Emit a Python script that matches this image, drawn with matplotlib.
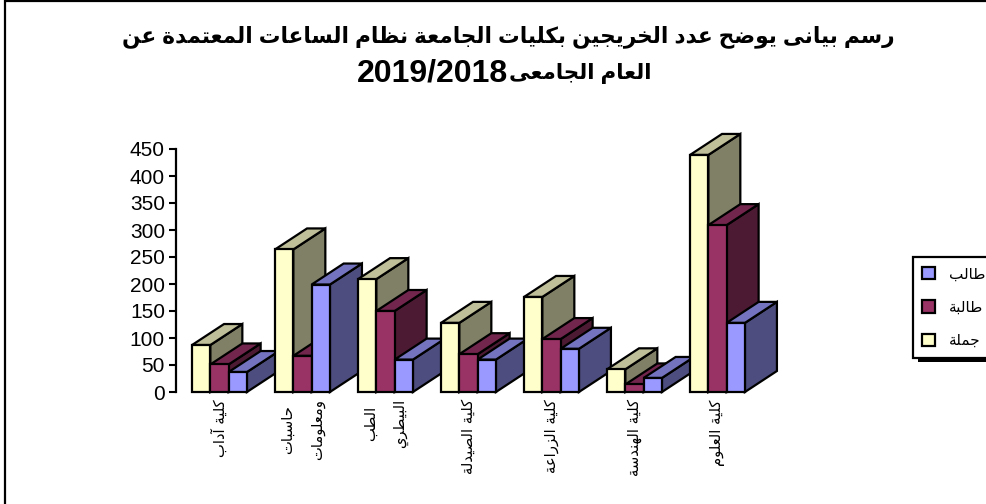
import re
import matplotlib
matplotlib.use("Agg")
import matplotlib.pyplot as plt
from matplotlib.patches import Polygon, Rectangle, Patch

W, H = 987, 504

title_lines = ["رسم بيانى يوضح عدد الخريجين بكليات الجامعة نظام الساعات المعتمدة عن",
               "العام الجامعى", "2019/2018"]
categories = ["كلية آداب", "حاسبات\nومعلومات", "الطب\nالبيطري", "كلية الصيدلة",
              "كلية الزراعة", "كلية الهندسة", "كلية العلوم"]
series_names = ["جملة", "طالبة", "طالب"]
total = [87, 264, 209, 128, 176, 42, 439]
female = [51, 67, 150, 70, 98, 14, 309]
male = [37, 199, 60, 60, 80, 26, 128]
y_ticks = [0, 50, 100, 150, 200, 250, 300, 350, 400, 450]

colors = ["#FFFFCC", "#993366", "#9999FF"]
tops = ["#BFBF99", "#73264D", "#7373BF"]
sides = ["#808066", "#4D1A33", "#4D4D80"]

# (isolated, final, initial, medial); two entries = joins to the right only
forms = {
    "ا": "\uFE8D\uFE8E", "آ": "\uFE81\uFE82", "د": "\uFEA9\uFEAA", "ر": "\uFEAD\uFEAE",
    "ز": "\uFEAF\uFEB0", "و": "\uFEED\uFEEE", "ة": "\uFE93\uFE94", "ى": "\uFEEF\uFEF0",
    "ب": "\uFE8F\uFE90\uFE91\uFE92", "ت": "\uFE95\uFE96\uFE97\uFE98", "ج": "\uFE9D\uFE9E\uFE9F\uFEA0",
    "ح": "\uFEA1\uFEA2\uFEA3\uFEA4", "خ": "\uFEA5\uFEA6\uFEA7\uFEA8", "س": "\uFEB1\uFEB2\uFEB3\uFEB4",
    "ص": "\uFEB9\uFEBA\uFEBB\uFEBC", "ض": "\uFEBD\uFEBE\uFEBF\uFEC0", "ط": "\uFEC1\uFEC2\uFEC3\uFEC4",
    "ظ": "\uFEC5\uFEC6\uFEC7\uFEC8", "ع": "\uFEC9\uFECA\uFECB\uFECC", "ك": "\uFED9\uFEDA\uFEDB\uFEDC",
    "ل": "\uFEDD\uFEDE\uFEDF\uFEE0", "م": "\uFEE1\uFEE2\uFEE3\uFEE4", "ن": "\uFEE5\uFEE6\uFEE7\uFEE8",
    "ه": "\uFEE9\uFEEA\uFEEB\uFEEC", "ي": "\uFEF1\uFEF2\uFEF3\uFEF4",
}

def shape(word):
    out = ""
    for i, c in enumerate(word):
        if c not in forms:
            out += c
            continue
        prev = word[i-1] if i > 0 else ""
        nxt = word[i+1] if i+1 < len(word) else ""
        after = prev in forms and len(forms[prev]) == 4
        before = len(forms[c]) == 4 and nxt in forms
        if after and before:
            out += forms[c][3]
        elif before:
            out += forms[c][2]
        elif after:
            out += forms[c][1]
        else:
            out += forms[c][0]
    return out

def ar(text):
    # matplotlib does no shaping or bidi, so build the visual order here
    lines = []
    for line in text.split("\n"):
        parts = re.findall(r"[0-9/]+|[^0-9/]+", line)
        parts = [p if p[0] in "0123456789/" else shape(p)[::-1] for p in parts]
        lines.append("".join(parts[::-1]))
    return "\n".join(lines)

def fx(px):
    return px / W

def fy(py):
    return 1 - py / H

plt.rcParams['font.family'] = ['Liberation Sans', 'DejaVu Sans']

fig = plt.figure(figsize=(W/100, H/100), dpi=100)
# the picture's frame is cropped: only the top and left edges show
fig.add_artist(Rectangle((fx(5), fy(520)), fx(1000), 519/H, transform=fig.transFigure,
                         fill=False, ec="black", lw=1.6))

ax = fig.add_axes([fx(176), fy(392), fx(640), 243/H])
ax.set_xlim(-0.524, 7.187)
ax.set_ylim(0, 450)
ax.patch.set_alpha(0)
for s in ["top", "right", "bottom"]:
    ax.spines[s].set_visible(False)
ax.spines["left"].set_linewidth(1.6)
ax.set_yticks(y_ticks)
ax.tick_params(axis="y", labelsize=15, length=5, width=1.5, pad=3)
ax.set_xticks([])

bar_w = 18.3 / 83
dx = 32 / 83
dy = 21 / 0.54
for i in range(len(categories)):
    for j, vals in enumerate([total, female, male]):
        x0 = i + (j - 1.5) * bar_w
        x1 = x0 + bar_w
        v = vals[i]
        ax.add_patch(Polygon([(x1, 0), (x1+dx, dy), (x1+dx, v+dy), (x1, v)], fc=sides[j], ec="black", lw=1.6, clip_on=False))
        ax.add_patch(Polygon([(x0, v), (x0+dx, v+dy), (x1+dx, v+dy), (x1, v)], fc=tops[j], ec="black", lw=1.6, clip_on=False))
        ax.add_patch(Rectangle((x0, 0), bar_w, v, fc=colors[j], ec="black", lw=1.6, clip_on=False))
    ax.annotate(ar(categories[i]), (i, 0), xytext=(0, -7), textcoords="offset pixels",
                rotation=90, ha="center", va="top", multialignment="center",
                fontsize=10.6, linespacing=2.2, family="DejaVu Sans", annotation_clip=False)

fig.text(fx(508), fy(37), ar(title_lines[0]), ha="center", va="center", fontsize=15.6, fontweight="bold")
fig.text(fx(509), fy(73), ar(title_lines[1]), ha="left", va="center", fontsize=15.4, fontweight="bold")
fig.text(fx(508), fy(74), title_lines[2], ha="right", va="center", fontsize=23, fontweight="bold")

fig.add_artist(Rectangle((fx(918), fy(362)), fx(80), 100/H, transform=fig.transFigure, fc="black", ec="none"))
handles = [Patch(fc=colors[j], ec="black", lw=1.6, label=ar(series_names[j])) for j in [2, 1, 0]]
leg = fig.legend(handles=handles, loc="upper left", bbox_to_anchor=(fx(913), fy(257)),
                 fontsize=11, frameon=True, fancybox=False, framealpha=1, edgecolor="black",
                 handlelength=0.85, handleheight=0.85, handletextpad=0.9, labelspacing=1.2,
                 borderaxespad=0, borderpad=0.62)
leg.get_frame().set_linewidth(1.6)
for t in leg.get_texts():
    t.set_family("DejaVu Sans")

fig.savefig("out.png", dpi=100)
